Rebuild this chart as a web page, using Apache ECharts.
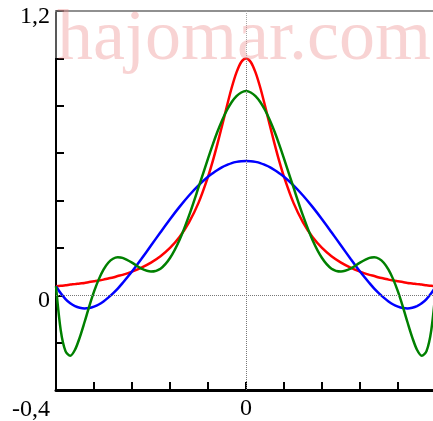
<!DOCTYPE html>
<html>
<head>
<meta charset="utf-8">
<script src="https://cdn.jsdelivr.net/npm/echarts@6/dist/echarts.min.js"></script>
<style>
  html, body { margin: 0; padding: 0; background: #fff; }
  #chart { width: 433px; height: 421px; }
</style>
</head>
<body>
<div id="chart"></div>
<script>
// sample positions along x
const xs = [
  -1, -0.975, -0.95, -0.925, -0.9, -0.875, -0.85, -0.825, -0.8, -0.775, -0.75, -0.725, -0.7, -0.675, -0.65,
  -0.6, -0.55, -0.5, -0.45, -0.4, -0.35, -0.3, -0.25, -0.2, -0.175, -0.15, -0.125, -0.1, -0.075, -0.05, -0.025,
  0,
  0.025, 0.05, 0.075, 0.1, 0.125, 0.15, 0.175, 0.2, 0.25, 0.3, 0.35, 0.4, 0.45, 0.5, 0.55, 0.6,
  0.65, 0.675, 0.7, 0.725, 0.75, 0.775, 0.8, 0.825, 0.85, 0.875, 0.9, 0.925, 0.95, 0.975, 1
];
// red curve
const redVals = [
  0.038, 0.040, 0.042, 0.045, 0.047, 0.050, 0.052, 0.056, 0.059, 0.062, 0.066, 0.071, 0.075, 0.081, 0.086,
  0.100, 0.117, 0.138, 0.165, 0.200, 0.246, 0.308, 0.390, 0.500, 0.566, 0.640, 0.719, 0.800, 0.877, 0.941, 0.985,
  1.000,
  0.985, 0.941, 0.877, 0.800, 0.719, 0.640, 0.566, 0.500, 0.390, 0.308, 0.246, 0.200, 0.165, 0.138, 0.117, 0.100,
  0.086, 0.081, 0.075, 0.071, 0.066, 0.062, 0.059, 0.056, 0.052, 0.050, 0.047, 0.045, 0.042, 0.040, 0.038
];
// blue curve
const blueVals = [
  0.038, 0.008, -0.016, -0.034, -0.046, -0.053, -0.056, -0.054, -0.048, -0.039, -0.026, -0.010, 0.008, 0.028, 0.051,
  0.100, 0.154, 0.210, 0.266, 0.321, 0.373, 0.421, 0.464, 0.500, 0.515, 0.529, 0.541, 0.550, 0.558, 0.563, 0.566,
  0.567,
  0.566, 0.563, 0.558, 0.550, 0.541, 0.529, 0.515, 0.500, 0.464, 0.421, 0.373, 0.321, 0.266, 0.210, 0.154, 0.100,
  0.051, 0.028, 0.008, -0.010, -0.026, -0.039, -0.048, -0.054, -0.056, -0.053, -0.046, -0.034, -0.016, 0.008, 0.038
];
// green curve
const greenVals = [
  0.038, -0.148, -0.236, -0.255, -0.230, -0.178, -0.114, -0.047, 0.015, 0.067, 0.108, 0.137, 0.154, 0.160, 0.158,
  0.138, 0.112, 0.100, 0.112, 0.157, 0.233, 0.336, 0.455, 0.577, 0.636, 0.691, 0.740, 0.782, 0.816, 0.841, 0.856,
  0.862,
  0.856, 0.841, 0.816, 0.782, 0.740, 0.691, 0.636, 0.577, 0.455, 0.336, 0.233, 0.157, 0.112, 0.100, 0.112, 0.138,
  0.158, 0.160, 0.154, 0.137, 0.108, 0.067, 0.015, -0.047, -0.114, -0.178, -0.230, -0.255, -0.236, -0.148, 0.038
];
const yTickLabels = { '1.2': '1,2', '0': '0', '-0.4': '-0,4' };
const xTickLabels = { '0': '0' };

const serif = '"Liberation Serif", "Times New Roman", serif';

function pairs(vals) {
  return xs.map((x, i) => [x, vals[i]]);
}

function lineSeries(vals, color) {
  return {
    type: 'line',
    data: pairs(vals),
    showSymbol: false,
    smooth: 0.3,
    lineStyle: { color: color, width: 2.5 },
    z: 3
  };
}

const chart = echarts.init(document.getElementById('chart'));
const redSeries = lineSeries(redVals, '#ff0000');
redSeries.markLine = {
  silent: true,
  symbol: 'none',
  label: { show: false },
  lineStyle: { color: '#777', type: 'dotted', width: 1 },
  data: [{ xAxis: 0 }, { yAxis: 0 }]
};

chart.setOption({
  animation: false,
  grid: { left: 56, top: 11, width: 380, height: 379, containLabel: false, outerBoundsMode: 'none' },
  xAxis: [
    {
      type: 'value', min: -1, max: 1, interval: 0.2,
      axisLine: { onZero: false, lineStyle: { color: '#000', width: 3 } },
      axisTick: { inside: true, length: 8, lineStyle: { color: '#000', width: 2 } },
      splitLine: { show: false },
      axisLabel: {
        margin: 7, fontFamily: serif, fontSize: 24, color: '#000',
        formatter: v => xTickLabels[String(Math.round(v * 10) / 10)] || ''
      }
    },
    {
      type: 'value', position: 'top', min: -1, max: 1,
      axisLine: { onZero: false, lineStyle: { color: '#555', width: 2 } },
      axisTick: { show: false }, axisLabel: { show: false }, splitLine: { show: false }
    }
  ],
  yAxis: {
    type: 'value', min: -0.4, max: 1.2, interval: 0.2,
    axisLine: { onZero: false, lineStyle: { color: '#000', width: 2 } },
    axisTick: { inside: true, length: 8, lineStyle: { color: '#000', width: 2 } },
    splitLine: { show: false },
    axisLabel: {
      margin: 6, fontFamily: serif, fontSize: 24, color: '#000',
      formatter: v => {
        const k = String(Math.round(v * 10) / 10);
        if (k === '1.2') return '{top|' + yTickLabels[k] + '}';
        if (k === '-0.4') return '{low|' + yTickLabels[k] + '}';
        if (k === '0') return '{mid|' + yTickLabels[k] + '}';
        return '';
      },
      rich: {
        top: { fontFamily: serif, fontSize: 24, padding: [12, 0, 0, 0] },
        mid: { fontFamily: serif, fontSize: 24, padding: [10, 0, 0, 0] },
        low: { fontFamily: serif, fontSize: 24, padding: [40, 0, 0, 0] }
      }
    }
  },
  series: [
    redSeries,
    lineSeries(blueVals, '#0000ff'),
    lineSeries(greenVals, '#008000')
  ],
  graphic: [
    {
      type: 'rect', silent: true, z: 100,
      shape: { x: 55, y: 0, width: 378, height: 58 },
      style: { fill: 'rgba(255,255,255,0.35)' }
    },
    {
      type: 'text', silent: true, z: 101,
      style: {
        x: 57, y: 4, text: 'hajomar.com',
        font: '72px "Liberation Serif", serif',
        fill: 'rgba(235,120,120,0.33)',
        verticalAlign: 'top'
      }
    }
  ]
});
</script>
</body>
</html>
